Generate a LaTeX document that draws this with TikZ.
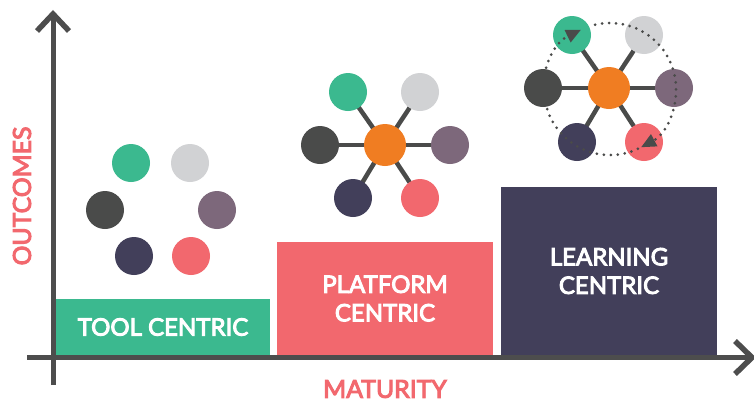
\documentclass[tikz,border=0pt]{standalone}
\usepackage{fontspec}
\setmainfont{Lato}
\newfontfamily\latobold{Lato}[FakeBold=4]
\usetikzlibrary{arrows.meta}
\definecolor{cgreen}{HTML}{3BB98F}
\definecolor{clgray}{HTML}{D1D2D4}
\definecolor{cdgray}{HTML}{4A4B4A}
\definecolor{cmauve}{HTML}{7D687B}
\definecolor{cnavy}{HTML}{423F5A}
\definecolor{cpink}{HTML}{F2686E}
\definecolor{corange}{HTML}{F07D22}
\definecolor{caxis}{HTML}{4D4D4D}
\tikzset{
  dot/.style={circle, fill=#1, minimum size=38pt, inner sep=0pt},
  hub/.style={circle, fill=corange, minimum size=42pt, inner sep=0pt},
  link/.style={draw=cdgray, line width=4.5pt},
  bar/.style={fill=#1, inner sep=0pt, text=white, font=\latobold\fontsize{24}{28.5}\selectfont, align=center},
  axisline/.style={draw=caxis, line width=5pt},
  chev/.style={draw=caxis, line width=5.5pt, line cap=butt, line join=miter},
  axlabel/.style={text=cpink, font=\latobold\fontsize{24.8}{26}\selectfont},
  cyc/.style={draw=cdgray, line width=3pt, line cap=round, dash pattern=on 0pt off 7pt}
}
\begin{document}
\begin{tikzpicture}[x=1pt,y=1pt]
\useasboundingbox[fill=white] (0,0) rectangle (754,-402);
% bars
\node[bar=cgreen, minimum width=214pt, minimum height=56pt] (tool) at (163,-327) {TOOL CENTRIC};
\node[bar=cpink, minimum width=216pt, minimum height=113pt] (plat) at (385,-298.5) {PLATFORM\\CENTRIC};
\node[bar=cnavy, minimum width=216pt, minimum height=168pt] (learn) at (609,-271) {LEARNING\\CENTRIC};
% axes
\coordinate (yb) at (53,-385);
\coordinate (yt) at (53,-15);
\coordinate (xl) at (27,-357.5);
\coordinate (xr) at (749,-357.5);
\draw[axisline] (yb) -- (yt);
\draw[axisline] (xl) -- (xr);
\coordinate (ya) at (37,-31);
\coordinate (yc) at (69,-31);
\coordinate (xa) at (735,-341);
\coordinate (xc) at (735,-374);
\draw[chev] (ya) -- (53,-14) -- (yc);
\draw[chev] (xa) -- (752,-357.5) -- (xc);
\node[axlabel, rotate=90] (outc) at (22,-196) {OUTCOMES};
\node[axlabel] (mat) at (385,-389) {MATURITY};
% cluster 1
\node[dot=cgreen] (a1) at (131,-163) {};
\node[dot=clgray] (a2) at (190,-163) {};
\node[dot=cdgray] (a3) at (105,-210) {};
\node[dot=cmauve] (a4) at (217,-210) {};
\node[dot=cnavy] (a5) at (134,-256) {};
\node[dot=cpink] (a6) at (191,-256) {};
% cluster 2
\coordinate (b0c) at (385,-145);
\draw[link] (b0c) -- (348,-92);
\draw[link] (b0c) -- (420,-92);
\draw[link] (b0c) -- (320,-145);
\draw[link] (b0c) -- (450,-145);
\draw[link] (b0c) -- (353,-198);
\draw[link] (b0c) -- (420,-198);
\node[dot=cgreen] (b1) at (348,-92) {};
\node[dot=clgray] (b2) at (420,-92) {};
\node[dot=cdgray] (b3) at (320,-145) {};
\node[dot=cmauve] (b4) at (450,-145) {};
\node[dot=cnavy] (b5) at (353,-198) {};
\node[dot=cpink] (b6) at (420,-198) {};
\node[hub] (b0) at (b0c) {};
% cluster 3
\coordinate (c0c) at (609,-88);
\draw[link] (c0c) -- (572,-35);
\draw[link] (c0c) -- (644,-35);
\draw[link] (c0c) -- (543,-88);
\draw[link] (c0c) -- (674,-88);
\draw[link] (c0c) -- (577,-142);
\draw[link] (c0c) -- (644,-142);
\node[dot=cgreen] (c1) at (572,-35) {};
\node[dot=clgray] (c2) at (644,-35) {};
\node[dot=cdgray] (c3) at (543,-88) {};
\node[dot=cmauve] (c4) at (674,-88) {};
\node[dot=cnavy] (c5) at (577,-142) {};
\node[dot=cpink] (c6) at (644,-142) {};
\node[hub] (c0) at (c0c) {};
% cycle arrows
\coordinate (cyc) at (610,-89);
\draw[cyc, -{Triangle[length=15pt,width=13pt,fill=cdgray]}] ([shift={(295:66pt)}]cyc) arc[start angle=295, end angle=116, radius=66pt];
\draw[cyc, -{Triangle[length=15pt,width=13pt,fill=cdgray]}] ([shift={(103:66pt)}]cyc) arc[start angle=103, end angle=-62, radius=66pt];
\end{tikzpicture}
\end{document}
